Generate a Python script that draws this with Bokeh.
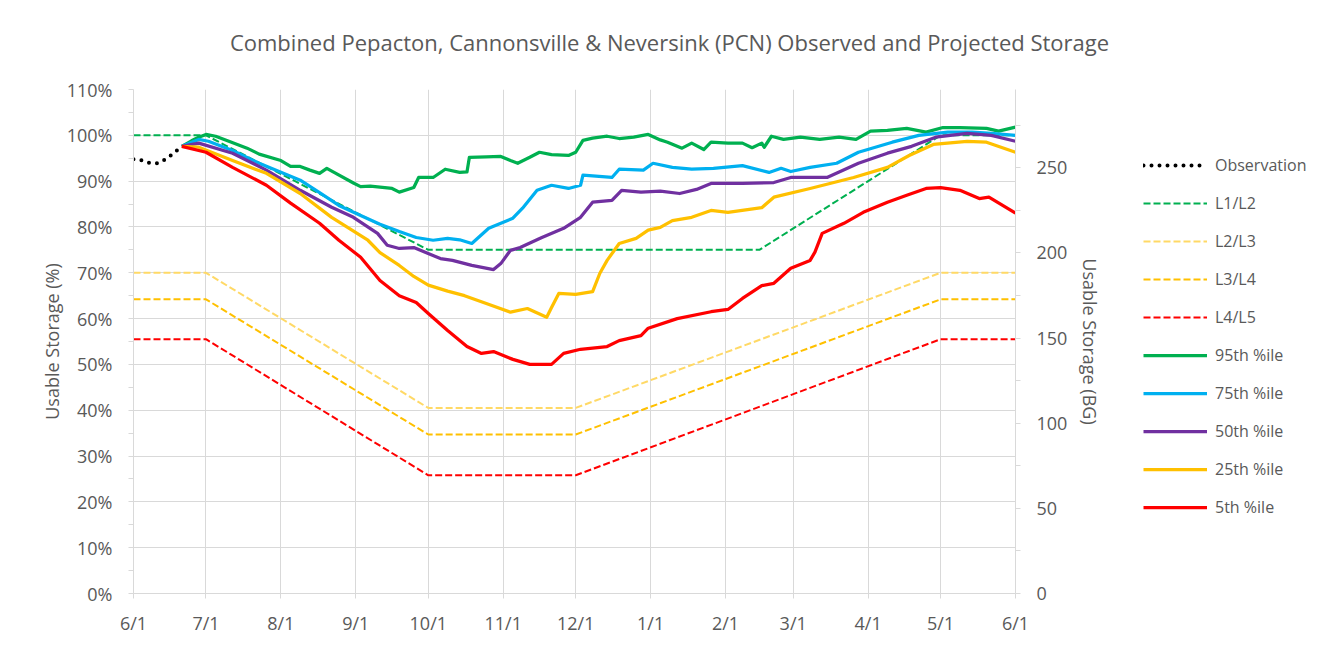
import pandas as pd
from bokeh.plotting import figure
from bokeh.layouts import column, row
from bokeh.models import (Range1d, LinearAxis, FixedTicker, Legend, LegendItem,
                          PrintfTickFormatter, Div)
from bokeh.embed import file_html
from bokeh.resources import INLINE

START = pd.Timestamp("2024-06-01")
CAPACITY_BG = 269.0
TITLE = "Combined Pepacton, Cannonsville &amp; Neversink (PCN) Observed and Projected Storage"

month_dates = ["2024-06-01", "2024-07-01", "2024-08-01", "2024-09-01", "2024-10-01",
               "2024-11-01", "2024-12-01", "2025-01-01", "2025-02-01", "2025-03-01",
               "2025-04-01", "2025-05-01", "2025-06-01"]
month_labels = ["6/1", "7/1", "8/1", "9/1", "10/1", "11/1", "12/1", "1/1", "2/1",
                "3/1", "4/1", "5/1", "6/1"]

obs_dates = ["2024-06-01", "2024-06-04", "2024-06-06", "2024-06-08", "2024-06-11",
             "2024-06-13", "2024-06-15", "2024-06-18", "2024-06-21"]
obs_vals = [94.8, 94.6, 94.2, 93.9, 93.9, 94.4, 95.0, 96.3, 97.6]

rule_dates_l1 = ["2024-06-01", "2024-07-01", "2024-10-01", "2025-02-15", "2025-05-01", "2025-06-01"]
l1l2_vals = [100, 100, 75, 75, 100, 100]
rule_dates = ["2024-06-01", "2024-07-01", "2024-10-01", "2024-12-01", "2025-05-01", "2025-06-01"]
l2l3_vals = [70, 70, 40.5, 40.5, 70, 70]
l3l4_vals = [64.2, 64.2, 34.7, 34.7, 64.2, 64.2]
l4l5_vals = [55.5, 55.5, 25.8, 25.8, 55.5, 55.5]

p95_dates = ["2024-06-21", "2024-06-25", "2024-06-28", "2024-07-01", "2024-07-05", "2024-07-11",
             "2024-07-18", "2024-07-23", "2024-08-01", "2024-08-05", "2024-08-09", "2024-08-13",
             "2024-08-17", "2024-08-20", "2024-08-23", "2024-08-31", "2024-09-03", "2024-09-07",
             "2024-09-13", "2024-09-16", "2024-09-19", "2024-09-25", "2024-09-27", "2024-10-03",
             "2024-10-08", "2024-10-14", "2024-10-17", "2024-10-18", "2024-10-25", "2024-10-31",
             "2024-11-04", "2024-11-07", "2024-11-12", "2024-11-16", "2024-11-21", "2024-11-28",
             "2024-12-01", "2024-12-04", "2024-12-08", "2024-12-14", "2024-12-19", "2024-12-25",
             "2024-12-31", "2025-01-05", "2025-01-08", "2025-01-14", "2025-01-18", "2025-01-23",
             "2025-01-26", "2025-02-02", "2025-02-08", "2025-02-12", "2025-02-16", "2025-02-17",
             "2025-02-20", "2025-02-25", "2025-03-04", "2025-03-12", "2025-03-20", "2025-03-27",
             "2025-04-02", "2025-04-09", "2025-04-17", "2025-04-25", "2025-05-02", "2025-05-09",
             "2025-05-20", "2025-05-25", "2025-06-01"]
p95_vals = [97.6, 98.8, 99.6, 100.2, 99.8, 98.6,
            97.2, 95.9, 94.5, 93.2, 93.2, 92.4,
            91.7, 92.8, 91.9, 89.6, 88.8, 88.9,
            88.6, 88.4, 87.6, 88.6, 90.8, 90.8,
            92.6, 91.9, 92.0, 95.2, 95.3, 95.4,
            94.5, 93.9, 95.2, 96.3, 95.8, 95.6,
            96.3, 98.9, 99.4, 99.8, 99.3, 99.6,
            100.2, 99.0, 98.5, 97.2, 98.3, 96.9,
            98.5, 98.3, 98.3, 97.3, 98.3, 97.4,
            99.8, 99.1, 99.6, 99.1, 99.6, 99.1,
            100.9, 101.1, 101.5, 100.7, 101.7, 101.7,
            101.5, 100.9, 101.8]

p75_dates = ["2024-06-21", "2024-06-28", "2024-07-02", "2024-07-12", "2024-07-23", "2024-08-09",
             "2024-08-17", "2024-08-25", "2024-09-03", "2024-09-11", "2024-09-19", "2024-09-26",
             "2024-10-03", "2024-10-09", "2024-10-14", "2024-10-19", "2024-10-26", "2024-11-05",
             "2024-11-09", "2024-11-15", "2024-11-21", "2024-11-28", "2024-12-03", "2024-12-04",
             "2024-12-16", "2024-12-19", "2024-12-29", "2025-01-02", "2025-01-10", "2025-01-18",
             "2025-01-27", "2025-02-08", "2025-02-19", "2025-02-24", "2025-02-28", "2025-03-08",
             "2025-03-19", "2025-03-28", "2025-04-11", "2025-04-22", "2025-05-04", "2025-05-14",
             "2025-05-22", "2025-06-01"]
p75_vals = [97.6, 99.1, 98.7, 96.7, 93.9, 90.2,
            87.5, 84.7, 82.5, 80.6, 79.0, 77.7,
            77.1, 77.5, 77.2, 76.4, 79.7, 81.9,
            84.1, 88.0, 89.1, 88.4, 89.1, 91.3,
            90.8, 92.6, 92.4, 93.9, 93.0, 92.6,
            92.8, 93.4, 91.9, 92.8, 92.1, 93.0,
            93.9, 96.3, 98.5, 100.0, 100.7, 100.7,
            100.4, 100.0]

p50_dates = ["2024-06-21", "2024-06-28", "2024-07-12", "2024-07-26", "2024-08-09", "2024-08-22",
             "2024-08-31", "2024-09-10", "2024-09-14", "2024-09-19", "2024-09-25", "2024-10-06",
             "2024-10-11", "2024-10-19", "2024-10-28", "2024-10-31", "2024-11-04", "2024-11-08",
             "2024-11-17", "2024-11-26", "2024-12-03", "2024-12-08", "2024-12-16", "2024-12-20",
             "2024-12-28", "2025-01-05", "2025-01-13", "2025-01-20", "2025-01-26", "2025-02-08",
             "2025-02-21", "2025-02-28", "2025-03-15", "2025-03-28", "2025-04-09", "2025-04-19",
             "2025-04-29", "2025-05-12", "2025-05-22", "2025-06-01"]
p50_vals = [97.6, 98.3, 96.1, 92.4, 88.0, 84.3,
            82.1, 78.6, 76.0, 75.3, 75.5, 73.1,
            72.7, 71.6, 70.7, 72.0, 74.9, 75.5,
            77.7, 79.7, 82.1, 85.4, 85.8, 88.0,
            87.6, 87.8, 87.3, 88.2, 89.5, 89.5,
            89.7, 90.8, 90.8, 93.9, 96.1, 97.6,
            99.6, 100.4, 100.0, 98.7]

p25_dates = ["2024-06-21", "2024-06-28", "2024-07-12", "2024-07-26", "2024-08-09", "2024-08-22",
             "2024-09-06", "2024-09-11", "2024-09-19", "2024-09-25", "2024-10-01", "2024-10-09",
             "2024-10-16", "2024-10-25", "2024-11-04", "2024-11-11", "2024-11-19", "2024-11-21",
             "2024-11-24", "2024-12-01", "2024-12-08", "2024-12-11", "2024-12-14", "2024-12-19",
             "2024-12-26", "2024-12-31", "2025-01-05", "2025-01-10", "2025-01-18", "2025-01-26",
             "2025-02-02", "2025-02-16", "2025-02-21", "2025-03-08", "2025-03-26", "2025-04-09",
             "2025-04-18", "2025-04-28", "2025-05-12", "2025-05-20", "2025-06-01"]
p25_vals = [97.6, 97.4, 94.5, 91.7, 87.3, 82.1,
            77.1, 74.4, 71.6, 69.2, 67.3, 66.0,
            65.0, 63.3, 61.4, 62.2, 60.3, 62.4,
            65.5, 65.3, 65.9, 69.9, 72.7, 76.4,
            77.5, 79.3, 79.9, 81.4, 82.1, 83.6,
            83.2, 84.2, 86.5, 88.4, 90.8, 93.0,
            95.6, 98.0, 98.7, 98.5, 96.3]

p5_dates = ["2024-06-21", "2024-07-01", "2024-07-12", "2024-07-26", "2024-08-05", "2024-08-17",
            "2024-08-25", "2024-09-03", "2024-09-11", "2024-09-19", "2024-09-26", "2024-10-01",
            "2024-10-09", "2024-10-17", "2024-10-23", "2024-10-28", "2024-11-05", "2024-11-12",
            "2024-11-21", "2024-11-26", "2024-12-03", "2024-12-14", "2024-12-19", "2024-12-28",
            "2024-12-31", "2025-01-12", "2025-01-26", "2025-02-02", "2025-02-08", "2025-02-16",
            "2025-02-21", "2025-02-28", "2025-03-08", "2025-03-10", "2025-03-13", "2025-03-22",
            "2025-03-30", "2025-04-09", "2025-04-17", "2025-04-25", "2025-05-01", "2025-05-09",
            "2025-05-17", "2025-05-21", "2025-06-01"]
p5_vals = [97.6, 96.3, 93.0, 89.1, 85.2, 80.8,
           77.1, 73.4, 68.3, 65.0, 63.5, 61.1,
           57.4, 53.9, 52.4, 52.8, 51.1, 50.0,
           50.0, 52.4, 53.3, 53.9, 55.2, 56.3,
           57.9, 60.0, 61.5, 62.0, 64.4, 67.2,
           67.7, 71.0, 72.7, 74.5, 78.6, 80.8,
           83.2, 85.4, 86.9, 88.4, 88.6, 88.0,
           86.2, 86.5, 83.0]

legend_labels = ["Observation", "L1/L2", "L2/L3", "L3/L4", "L4/L5",
                 "95th %ile", "75th %ile", "50th %ile", "25th %ile", "5th %ile"]


def days(dates):
    return [(pd.Timestamp(d) - START).days for d in dates]


FONT = "Open Sans"
TXT = "#595959"
GRID = "#d9d9d9"
TOTAL_W = 1325
HEAD_H = 60
MAIN_W = 1120
FIG_H = 640 - HEAD_H

head = Div(text=('<div style="width:%dpx;padding-top:29px;padding-left:14px;box-sizing:border-box;'
                 'text-align:center;font-family:\'Open Sans\';font-size:22px;line-height:26px;'
                 'color:%s;white-space:nowrap">%s</div>') % (TOTAL_W, TXT, TITLE),
           width=TOTAL_W, height=HEAD_H, margin=0)

p = figure(width=MAIN_W, height=FIG_H, x_range=Range1d(0, 365), y_range=Range1d(0, 110),
           output_backend="svg", toolbar_location=None, margin=0,
           min_border_left=133, min_border_right=MAIN_W - 1015, min_border_top=89 - HEAD_H,
           min_border_bottom=47)
p.outline_line_color = None
p.extra_y_ranges = {"bg": Range1d(0, 110 * CAPACITY_BG / 100)}

month_days = days(month_dates)
p.xaxis.ticker = FixedTicker(ticks=month_days, minor_ticks=[])
p.xaxis.major_label_overrides = {d: l for d, l in zip(month_days, month_labels)}
p.xgrid.ticker = FixedTicker(ticks=month_days)

p.yaxis.ticker = FixedTicker(ticks=list(range(0, 111, 10)), minor_ticks=list(range(5, 110, 10)))
p.yaxis.formatter = PrintfTickFormatter(format="%d%%")
p.yaxis.axis_label = "Usable Storage (%)"
p.ygrid.ticker = FixedTicker(ticks=list(range(0, 111, 10)))

raxis = LinearAxis(y_range_name="bg", axis_label="Usable Storage (BG)",
                   ticker=FixedTicker(ticks=list(range(0, 251, 50)),
                                      minor_ticks=list(range(25, 300, 50))))
p.add_layout(raxis, "right")

for g in (p.xgrid, p.ygrid):
    g.grid_line_color = GRID
    g.grid_line_width = 1

for ax in (p.xaxis[0], p.yaxis[0], raxis):
    ax.axis_line_color = GRID
    ax.major_tick_line_color = GRID
    ax.minor_tick_line_color = GRID
    ax.major_tick_out = 5
    ax.major_tick_in = 0
    ax.minor_tick_out = 5
    ax.minor_tick_in = 0
    ax.major_label_text_font = FONT
    ax.major_label_text_font_size = "18px"
    ax.major_label_text_color = TXT
    ax.major_label_standoff = 16
    ax.axis_label_text_font = FONT
    ax.axis_label_text_font_size = "18px"
    ax.axis_label_text_font_style = "normal"
    ax.axis_label_text_color = TXT
p.xaxis.major_label_standoff = 12
p.yaxis.axis_label_standoff = 0
raxis.axis_label_standoff = 8

DASH = "7 3"
W = 3.25
styles = [
    dict(line_color="black", line_width=4, line_dash="0 8", line_cap="round"),
    dict(line_color="#00B050", line_width=2, line_dash=DASH),
    dict(line_color="#FFD966", line_width=2, line_dash=DASH),
    dict(line_color="#FFC000", line_width=2, line_dash=DASH),
    dict(line_color="#FF0000", line_width=2, line_dash=DASH),
    dict(line_color="#00B050", line_width=W, line_join="round"),
    dict(line_color="#00B0F0", line_width=W, line_join="round"),
    dict(line_color="#7030A0", line_width=W, line_join="round"),
    dict(line_color="#FFC000", line_width=W, line_join="round"),
    dict(line_color="#FF0000", line_width=W, line_join="round"),
]

# draw order: threshold rules below, then observation, then percentiles
p.line(days(rule_dates_l1), l1l2_vals, **styles[1])
p.line(days(rule_dates), l2l3_vals, **styles[2])
p.line(days(rule_dates), l3l4_vals, **styles[3])
p.line(days(rule_dates), l4l5_vals, **styles[4])
p.line(days(obs_dates), obs_vals, **styles[0])
p.line(days(p95_dates), p95_vals, **styles[5])
p.line(days(p75_dates), p75_vals, **styles[6])
p.line(days(p50_dates), p50_vals, **styles[7])
p.line(days(p25_dates), p25_vals, **styles[8])
p.line(days(p5_dates), p5_vals, **styles[9])

# legend panel (separate canvas so it is not clipped)
lg = figure(width=TOTAL_W - MAIN_W, height=FIG_H, x_range=Range1d(0, 1), y_range=Range1d(0, 1),
            output_backend="svg", toolbar_location=None, margin=0,
            min_border_left=0, min_border_right=0, min_border_top=0, min_border_bottom=0)
lg.axis.visible = False
lg.grid.visible = False
lg.outline_line_color = None
items = []
for lab, st in zip(legend_labels, styles):
    r = lg.line([-5, -4], [-5, -4], **st)
    items.append(LegendItem(label=lab, renderers=[r]))
legend = Legend(items=items, location=(1143 - MAIN_W, 75))
legend.border_line_color = None
legend.background_fill_alpha = 0
legend.padding = 0
legend.margin = 0
legend.glyph_width = 64
legend.glyph_height = 22
legend.label_height = 22
legend.spacing = 16
legend.label_standoff = 8
legend.label_text_font = FONT
legend.label_text_font_size = "16px"
legend.label_text_color = TXT
lg.add_layout(legend, "center")

layout = column(head, row(p, lg, spacing=0, margin=0), spacing=0, margin=0)
open("out.html", "w").write(file_html(layout, INLINE))
